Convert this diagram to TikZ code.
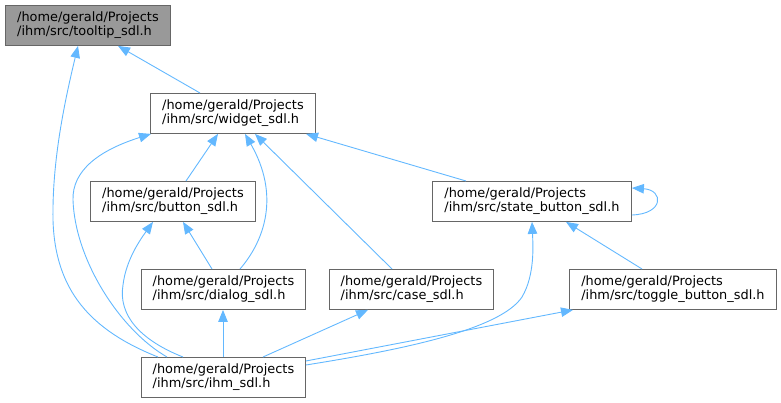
\documentclass[tikz,border=0pt]{standalone}
\usepackage{fontspec}
\setmainfont{DejaVu Sans}
\usetikzlibrary{arrows.meta}
\definecolor{edgeblue}{HTML}{63B8FF}
\definecolor{bordergray}{HTML}{666666}
\definecolor{curgray}{HTML}{999999}
\begin{document}
\begin{tikzpicture}[x=1pt,y=-1pt,
  file/.style={draw=bordergray, line width=0.9pt, fill=white, inner sep=0pt,
    minimum height=40pt, anchor=north west, align=left,
    font=\fontsize{12.9}{14}\selectfont},
  curfile/.style={file, fill=curgray},
  edge/.style={draw=edgeblue, line width=0.9pt, {Triangle[length=12pt,width=9.5pt]}-}]
\useasboundingbox (0,0) rectangle (781,403);

\node[curfile, minimum width=165pt] (tooltip) at (5,5) {/home/gerald/Projects\\/ihm/src/tooltip\_sdl.h};
\node[file, minimum width=165pt] (widget) at (150,93) {/home/gerald/Projects\\/ihm/src/widget\_sdl.h};
\node[file, minimum width=165pt] (button) at (90,181) {/home/gerald/Projects\\/ihm/src/button\_sdl.h};
\node[file, minimum width=199pt] (state) at (432,181) {/home/gerald/Projects\\/ihm/src/state\_button\_sdl.h};
\node[file, minimum width=164pt] (dialog) at (141,269) {/home/gerald/Projects\\/ihm/src/dialog\_sdl.h};
\node[file, minimum width=164pt] (case) at (329,269) {/home/gerald/Projects\\/ihm/src/case\_sdl.h};
\node[file, minimum width=207pt] (toggle) at (569,269) {/home/gerald/Projects\\/ihm/src/toggle\_button\_sdl.h};
\node[file, minimum width=164pt] (ihm) at (141,357) {/home/gerald/Projects\\/ihm/src/ihm\_sdl.h};

% widget -> tooltip
\draw[edge] ([xshift=113pt]tooltip.south west) -- ([xshift=50pt]widget.north west);
% ihm -> tooltip
\draw[edge] ([xshift=73pt]tooltip.south west) .. controls (65,100) and (52,160) .. (53,220)
  .. controls (55,290) and (90,330) .. ([xshift=17pt]ihm.north west);
% ihm -> widget
\draw[edge] ([xshift=1pt]widget.south west) .. controls (100,150) and (72,170) .. (73,200)
  .. controls (75,260) and (120,330) .. ([xshift=26pt]ihm.north west);
% ihm -> button
\draw[edge] ([xshift=63pt]button.south west) .. controls (140,240) and (126,260) .. (123,285)
  .. controls (118,315) and (140,340) .. ([xshift=42pt]ihm.north west);
% button -> widget
\draw[edge] ([xshift=68pt]widget.south west) -- ([xshift=96pt]button.north west);
% dialog -> button
\draw[edge] ([xshift=93pt]button.south west) -- ([xshift=71pt]dialog.north west);
% dialog -> widget
\draw[edge] ([xshift=95pt]widget.south west) .. controls (280,195) and (265,240) .. ([xshift=99pt]dialog.north west);
% case -> widget
\draw[edge] ([xshift=105pt]widget.south west) -- ([xshift=63pt]case.north west);
% state -> widget
\draw[edge] ([xshift=156pt]widget.south west) -- ([xshift=34pt]state.north west);
% ihm -> dialog
\draw[edge] ([xshift=82pt]dialog.south west) -- ([xshift=82pt]ihm.north west);
% ihm -> case
\draw[edge] ([xshift=39pt]case.south west) -- ([xshift=122pt]ihm.north west);
% ihm -> state
\draw[edge] ([xshift=100pt]state.south west) .. controls (533,245) and (535,275) .. (522,297)
  .. controls (500,330) and (400,350) .. ([yshift=-8pt]ihm.north east);
% ihm -> toggle
\draw[edge] ([xshift=4pt]toggle.south west) -- ([yshift=-4pt]ihm.north east);
% toggle -> state
\draw[edge] ([xshift=134pt]state.south west) -- ([xshift=73pt]toggle.north west);
% state -> state
\draw[edge] ([yshift=-7pt]state.north east) .. controls (664,190) and (664,214) .. ([yshift=-34pt]state.north east);
\end{tikzpicture}
\end{document}
